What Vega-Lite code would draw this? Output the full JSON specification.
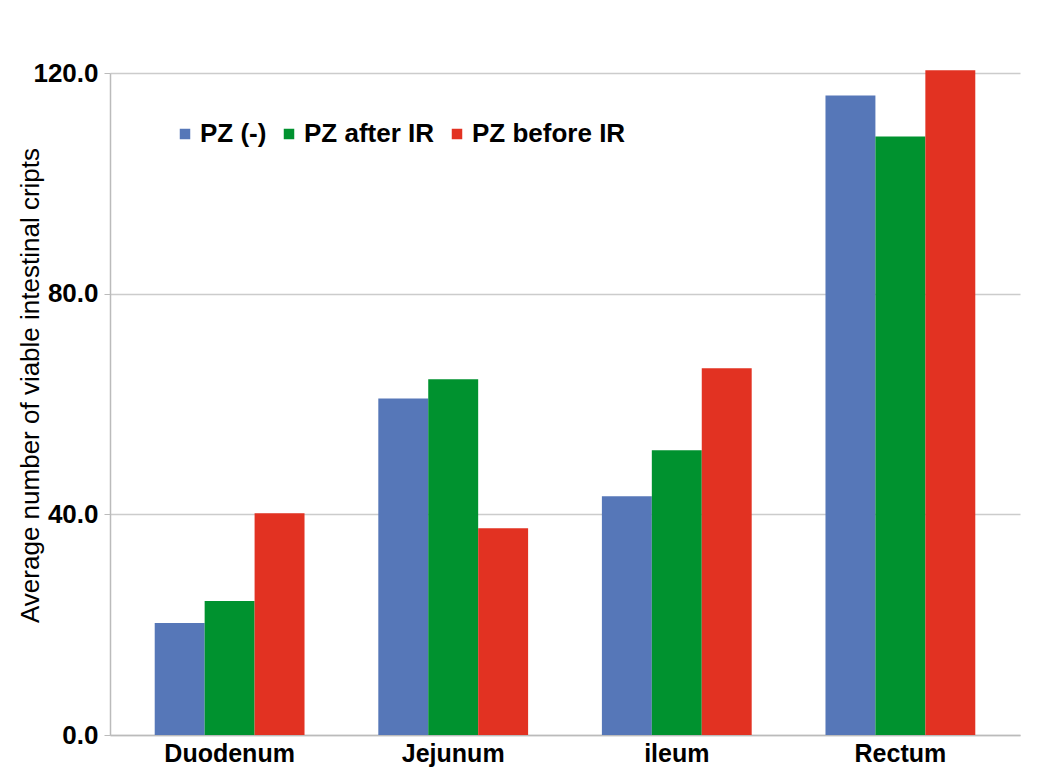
{
  "$schema": "https://vega.github.io/schema/vega-lite/v6.json",
  "autosize": {"type": "none"},
  "width": 910,
  "height": 662,
  "padding": {"left": 110, "top": 73, "right": 43, "bottom": 45},
  "background": "white",
  "data": {
    "values": [
      {"site": "Duodenum", "group": "PZ (-)", "value": 20.3},
      {"site": "Duodenum", "group": "PZ after IR", "value": 24.3},
      {"site": "Duodenum", "group": "PZ before IR", "value": 40.2},
      {"site": "Jejunum", "group": "PZ (-)", "value": 61.0},
      {"site": "Jejunum", "group": "PZ after IR", "value": 64.5},
      {"site": "Jejunum", "group": "PZ before IR", "value": 37.5},
      {"site": "ileum", "group": "PZ (-)", "value": 43.3},
      {"site": "ileum", "group": "PZ after IR", "value": 51.6},
      {"site": "ileum", "group": "PZ before IR", "value": 66.5},
      {"site": "Rectum", "group": "PZ (-)", "value": 115.9},
      {"site": "Rectum", "group": "PZ after IR", "value": 108.5},
      {"site": "Rectum", "group": "PZ before IR", "value": 120.5}
    ]
  },
  "config": {
    "font": "Liberation Sans",
    "view": {"stroke": null}
  },
  "mark": {"type": "bar"},
  "encoding": {
    "x": {
      "field": "site",
      "type": "nominal",
      "sort": ["Duodenum", "Jejunum", "ileum", "Rectum"],
      "scale": {"paddingInner": 0.33, "paddingOuter": 0.2},
      "axis": {
        "title": null,
        "labelAngle": 0,
        "labelFontSize": 25,
        "labelFontWeight": "bold",
        "labelColor": "black",
        "labelPadding": 6,
        "domainColor": "#bbbbbb",
        "domainWidth": 1.5,
        "ticks": false
      }
    },
    "xOffset": {"field": "group", "type": "nominal", "sort": ["PZ (-)", "PZ after IR", "PZ before IR"]},
    "y": {
      "field": "value",
      "type": "quantitative",
      "scale": {"domain": [0, 120], "nice": false},
      "axis": {
        "title": "Average number of viable intestinal cripts",
        "titleFontSize": 26,
        "titleFontWeight": "normal",
        "titleColor": "black",
        "titleX": -80,
        "titleY": 312,
        "titleAlign": "center",
        "titleBaseline": "middle",
        "titleAngle": -90,
        "values": [0, 40, 80, 120],
        "format": ".1f",
        "labelFontSize": 26,
        "labelFontWeight": "bold",
        "labelColor": "black",
        "labelPadding": 6,
        "grid": true,
        "gridColor": "#cccccc",
        "gridWidth": 1.5,
        "domainColor": "#bbbbbb",
        "domainWidth": 1.5,
        "tickColor": "#bbbbbb",
        "tickSize": 6
      }
    },
    "color": {
      "field": "group",
      "type": "nominal",
      "sort": ["PZ (-)", "PZ after IR", "PZ before IR"],
      "scale": {
        "domain": ["PZ (-)", "PZ after IR", "PZ before IR"],
        "range": ["#5677B8", "#00922F", "#E23222"]
      },
      "legend": {
        "title": null,
        "orient": "none",
        "legendX": 62,
        "legendY": 48,
        "direction": "horizontal",
        "symbolType": "square",
        "symbolSize": 110,
        "labelFontSize": 26,
        "labelFontWeight": "bold",
        "labelColor": "black",
        "columnPadding": 9,
        "labelOffset": 2
      }
    }
  }
}
